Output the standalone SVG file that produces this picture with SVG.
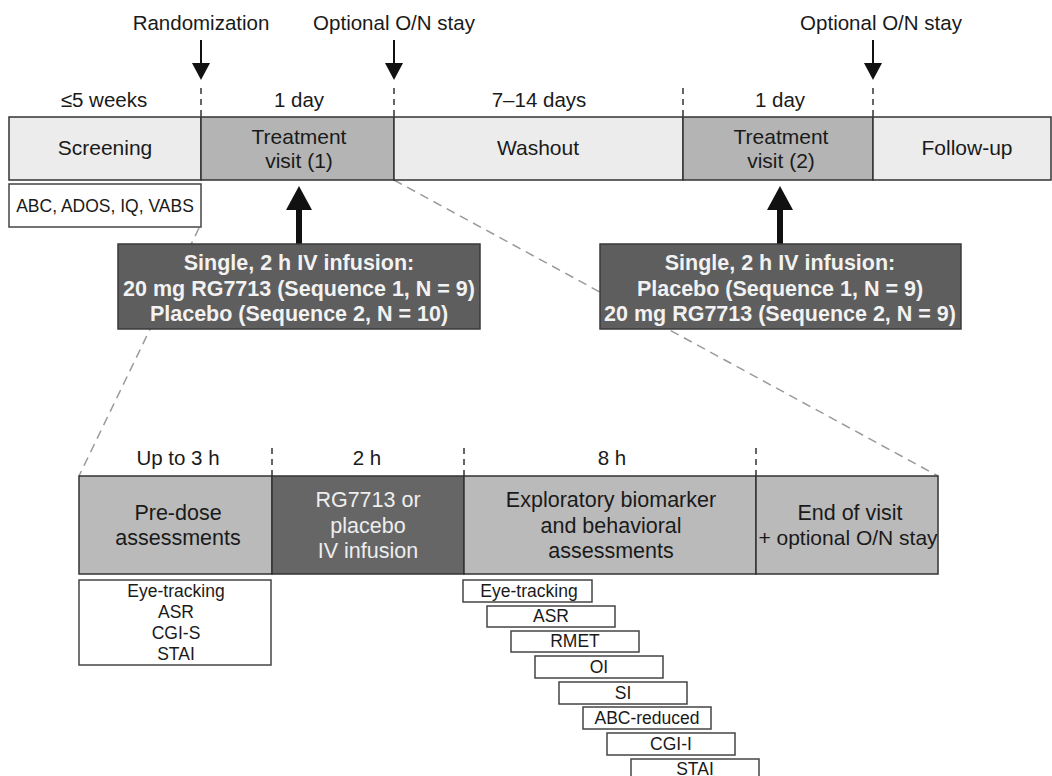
<svg xmlns="http://www.w3.org/2000/svg" width="1052" height="776" viewBox="0 0 1052 776">
<defs>
<style>
text{font-family:"Liberation Sans",Arial,sans-serif;fill:#1a1a1a;text-anchor:middle}
.lbl{font-size:20.5px}
.bar{font-size:21px}
.bb{font-size:21.5px}
.sm{font-size:17.5px}
.dk{font-size:21.5px;font-weight:bold;fill:#f2f2f2}
.wt{fill:#eeeeee}
.light{fill:#ececec;stroke:#333;stroke-width:1.5}
.mid{fill:#b4b4b4;stroke:#333;stroke-width:1.5}
.mid2{fill:#bababa;stroke:#333;stroke-width:1.5}
.dark{fill:#5e5e5e;stroke:#3a3a3a;stroke-width:1.5}
.dark2{fill:#666666;stroke:#333;stroke-width:1.5}
.wbox{fill:#ffffff;stroke:#444;stroke-width:1.5}
.tick{stroke:#333;stroke-width:1.5;stroke-dasharray:6 5;fill:none}
.zoom{stroke:#9a9a9a;stroke-width:1.5;stroke-dasharray:9 6;fill:none}
.sh{stroke:#111;fill:none}
</style>
</defs>
<rect width="1052" height="776" fill="#ffffff"/>

<g id="connectors">
<line class="zoom" x1="199" y1="228" x2="79" y2="476"/>
<line class="zoom" x1="394" y1="180" x2="938" y2="476"/>
<line class="tick" x1="201" y1="88" x2="201" y2="117"/>
<line class="tick" x1="394" y1="88" x2="394" y2="117"/>
<line class="tick" x1="683" y1="88" x2="683" y2="117"/>
<line class="tick" x1="873" y1="88" x2="873" y2="117"/>
<line class="tick" x1="272" y1="448" x2="272" y2="476"/>
<line class="tick" x1="464" y1="448" x2="464" y2="476"/>
<line class="tick" x1="756" y1="448" x2="756" y2="476"/>
<line class="sh" stroke-width="2" x1="201" y1="40" x2="201" y2="65"/>
<polygon points="192,63 210,63 201,80" fill="#111"/>
<line class="sh" stroke-width="2" x1="394" y1="40" x2="394" y2="65"/>
<polygon points="385,63 403,63 394,80" fill="#111"/>
<line class="sh" stroke-width="2" x1="873" y1="40" x2="873" y2="65"/>
<polygon points="864,63 882,63 873,80" fill="#111"/>
<line class="sh" stroke-width="6" x1="299" y1="208" x2="299" y2="244"/>
<polygon points="286,210 312,210 299,186" fill="#111"/>
<line class="sh" stroke-width="6" x1="780" y1="208" x2="780" y2="244"/>
<polygon points="767,210 793,210 780,186" fill="#111"/>
</g>

<g id="top-labels">
<text class="lbl" x="201" y="30">Randomization</text>
<text class="lbl" x="394" y="30">Optional O/N stay</text>
<text class="lbl" x="881" y="30">Optional O/N stay</text>
<text class="lbl" x="104" y="107">≤5 weeks</text>
<text class="lbl" x="299" y="107">1 day</text>
<text class="lbl" x="539" y="107">7–14 days</text>
<text class="lbl" x="780" y="107">1 day</text>
</g>

<g id="screening">
<rect class="light" x="9" y="117" width="192" height="63"/>
<text class="bar" x="105" y="155">Screening</text>
</g>
<g id="visit1">
<rect class="mid" x="201" y="117" width="193" height="63"/>
<text class="bar" x="299" y="144">Treatment</text>
<text class="bar" x="299" y="168">visit (1)</text>
</g>
<g id="washout">
<rect class="light" x="394" y="117" width="289" height="63"/>
<text class="bar" x="538" y="155">Washout</text>
</g>
<g id="visit2">
<rect class="mid" x="683" y="117" width="190" height="63"/>
<text class="bar" x="781" y="144">Treatment</text>
<text class="bar" x="781" y="168">visit (2)</text>
</g>
<g id="followup">
<rect class="light" x="873" y="117" width="178" height="63"/>
<text class="bar" x="967" y="155">Follow-up</text>
</g>

<g id="screening-assessments">
<rect class="wbox" x="9" y="184" width="192" height="43"/>
<text class="sm" x="105" y="212">ABC, ADOS, IQ, VABS</text>
</g>

<g id="infusion1">
<rect class="dark" x="118" y="244" width="362" height="85"/>
<text class="dk" x="299" y="270">Single, 2 h IV infusion:</text>
<text class="dk" x="299" y="296">20 mg RG7713 (Sequence 1, N = 9)</text>
<text class="dk" x="299" y="321">Placebo (Sequence 2, N = 10)</text>
</g>
<g id="infusion2">
<rect class="dark" x="600" y="244" width="361" height="85"/>
<text class="dk" x="780" y="270">Single, 2 h IV infusion:</text>
<text class="dk" x="780" y="296">Placebo (Sequence 1, N = 9)</text>
<text class="dk" x="780" y="321">20 mg RG7713 (Sequence 2, N = 9)</text>
</g>

<g id="bottom-labels">
<text class="lbl" x="178" y="465">Up to 3 h</text>
<text class="lbl" x="367" y="465">2 h</text>
<text class="lbl" x="612" y="465">8 h</text>
</g>

<g id="predose">
<rect class="mid2" x="79" y="476" width="193" height="98"/>
<text class="bb" x="178" y="520">Pre-dose</text>
<text class="bb" x="178" y="545">assessments</text>
</g>
<g id="infusion-phase">
<rect class="dark2" x="272" y="476" width="192" height="98"/>
<text class="bb wt" x="368" y="507">RG7713 or</text>
<text class="bb wt" x="368" y="533">placebo</text>
<text class="bb wt" x="368" y="558">IV infusion</text>
</g>
<g id="exploratory">
<rect class="mid2" x="464" y="476" width="292" height="98"/>
<text class="bb" x="611" y="507">Exploratory biomarker</text>
<text class="bb" x="611" y="533">and behavioral</text>
<text class="bb" x="611" y="558">assessments</text>
</g>
<g id="end-visit">
<rect class="mid2" x="756" y="476" width="182" height="98"/>
<text class="bb" x="850" y="520">End of visit</text>
<text class="bar" x="848" y="545">+ optional O/N stay</text>
</g>

<g id="predose-list">
<rect class="wbox" x="79" y="580" width="192" height="85"/>
<text class="sm" x="176" y="597">Eye-tracking</text>
<text class="sm" x="176" y="618">ASR</text>
<text class="sm" x="176" y="639">CGI-S</text>
<text class="sm" x="176" y="660">STAI</text>
</g>

<g id="post-eye-tracking"><rect class="wbox" x="463" y="580" width="129" height="22"/><text class="sm" x="529" y="597">Eye-tracking</text></g>
<g id="post-asr"><rect class="wbox" x="487" y="606" width="128" height="21"/><text class="sm" x="551" y="622">ASR</text></g>
<g id="post-rmet"><rect class="wbox" x="511" y="631" width="128" height="21"/><text class="sm" x="575" y="647">RMET</text></g>
<g id="post-oi"><rect class="wbox" x="535" y="656" width="128" height="22"/><text class="sm" x="599" y="673">OI</text></g>
<g id="post-si"><rect class="wbox" x="559" y="682" width="128" height="22"/><text class="sm" x="623" y="699">SI</text></g>
<g id="post-abc"><rect class="wbox" x="583" y="707" width="128" height="22"/><text class="sm" x="647" y="724">ABC-reduced</text></g>
<g id="post-cgi"><rect class="wbox" x="607" y="733" width="128" height="22"/><text class="sm" x="671" y="750">CGI-I</text></g>
<g id="post-stai"><rect class="wbox" x="631" y="759" width="128" height="24"/><text class="sm" x="695" y="775">STAI</text></g>
</svg>
